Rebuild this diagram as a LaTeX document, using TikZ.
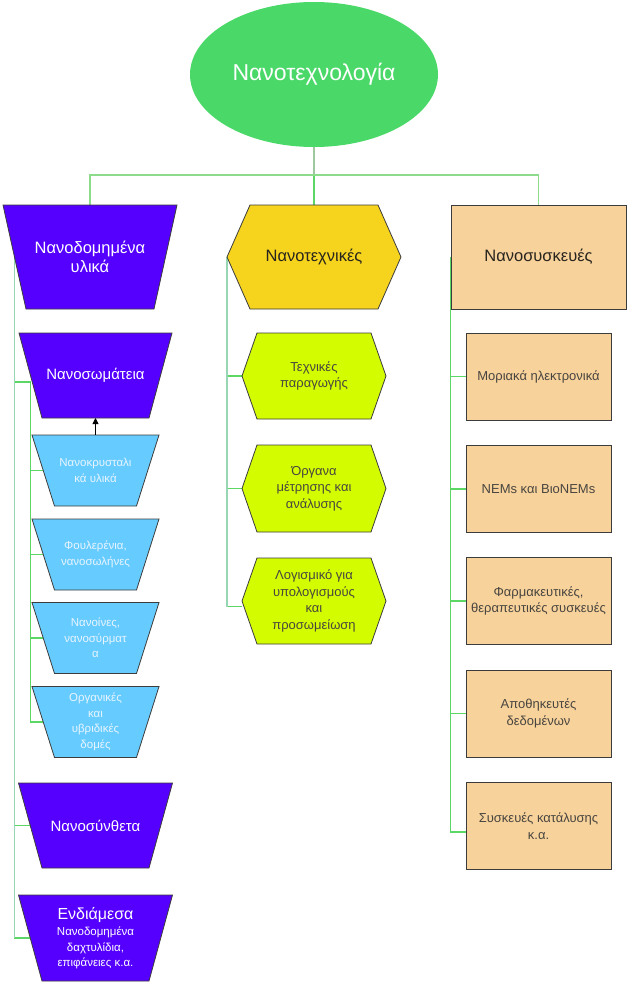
\documentclass[tikz,border=0pt]{standalone}
\usepackage{fontspec}
\setmainfont{Liberation Sans}
\usetikzlibrary{shapes.geometric,arrows.meta,backgrounds}
\definecolor{rootg}{RGB}{74,217,104}
\definecolor{purp}{RGB}{85,0,255}
\definecolor{lblue}{RGB}{102,204,255}
\definecolor{lbtxt}{RGB}{232,244,255}
\definecolor{gold}{RGB}{246,211,28}
\definecolor{lime}{RGB}{212,252,0}
\definecolor{peach}{RGB}{248,210,155}
\definecolor{gline}{RGB}{92,214,100}
\definecolor{busl}{RGB}{140,220,140}
\definecolor{grayg}{RGB}{160,200,160}
\definecolor{mint}{RGB}{150,214,178}
\definecolor{bord}{RGB}{60,60,60}
\definecolor{dtxt}{RGB}{40,36,30}
\newcommand\trapshape[9]{%
  \path[#7] (#2-#4,#3-#6) -- (#2+#4,#3-#6) -- (#2+#5,#3+#6) -- (#2-#5,#3+#6) -- cycle;
  \coordinate (#1-l) at ({#2-(#4+#5)/2},#3);
  \coordinate (#1-t) at (#2,#3-#6);
  \coordinate (#1-b) at (#2,#3+#6);
  \node[#8] (#1) at (#2,#3) {#9};
}
\newcommand\hexshape[9]{%
  \path[#7] (#2-#4,#3) -- (#2-#4+#5,#3-#6) -- (#2+#4-#5,#3-#6) -- (#2+#4,#3) -- (#2+#4-#5,#3+#6) -- (#2-#4+#5,#3+#6) -- cycle;
  \coordinate (#1-l) at (#2-#4,#3);
  \coordinate (#1-t) at (#2,#3-#6);
  \node[#8] (#1) at (#2,#3) {#9};
}
\tikzset{
  bigpurp/.style={fill=purp,draw=bord,line width=0.8pt},
  bluebox/.style={fill=lblue,draw=bord,line width=0.8pt},
  goldhex/.style={fill=gold,draw=bord,line width=0.8pt},
  limehex/.style={fill=lime,draw=bord,line width=0.8pt},
  ptxt/.style={align=center,text=white,font=\fontsize{15}{17.5}\selectfont,inner sep=0pt},
  p1txt/.style={align=center,text=white,font=\fontsize{16.5}{18.5}\selectfont,inner sep=0pt},
  btxt/.style={align=center,text=lbtxt,font=\fontsize{11.5}{15.5}\selectfont,inner sep=0pt},
  htxt/.style={align=center,text=dtxt,font=\fontsize{16.5}{18.5}\selectfont,inner sep=0pt},
  ltxt/.style={align=center,text=dtxt!85,font=\fontsize{13}{16.5}\selectfont,inner sep=0pt},
  devbig/.style={rectangle,fill=peach,draw=bord,line width=0.8pt,minimum width=175pt,minimum height=104pt,align=center,text=dtxt,font=\fontsize{16.5}{18.5}\selectfont},
  devbox/.style={rectangle,fill=peach,draw=bord,line width=0.8pt,minimum width=145pt,minimum height=87pt,align=center,text=dtxt!85,font=\fontsize{13}{16.5}\selectfont},
  gl/.style={draw=gline,line width=1.1pt},
  bl/.style={draw=busl,line width=1.1pt},
  grl/.style={draw=grayg,line width=1.1pt},
  ml/.style={draw=mint,line width=1.4pt},
}
\begin{document}
\begin{tikzpicture}[x=1pt,y=-1pt]
\useasboundingbox (0,0) rectangle (629,985);
\node[ellipse,fill=rootg,minimum width=248pt,minimum height=145pt,inner sep=0pt,text=white,font=\fontsize{23}{27}\selectfont] (root) at (314,74.5) {Νανοτεχνολογία};
\coordinate (bus) at (314,175);
% left column
\trapshape{nmat}{90}{257}{87}{64}{52}{bigpurp}{p1txt}{Νανοδομημένα\\υλικά}
\trapshape{nsom}{95.5}{375.5}{76.5}{53.5}{42.5}{bigpurp}{ptxt}{Νανοσωμάτεια}
\trapshape{c1}{95.5}{470.5}{63.5}{41}{35.5}{bluebox}{btxt}{Νανοκρυσταλι\\κά υλικά}
\trapshape{c2}{95.5}{554.5}{63.5}{41}{35.5}{bluebox}{btxt}{Φουλερένια,\\νανοσωλήνες}
\trapshape{c3}{95.5}{638}{63.5}{41}{35.5}{bluebox}{btxt}{Νανοίνες,\\νανοσύρματ\\α}
\trapshape{c4}{95.5}{722}{63.5}{41}{35.5}{bluebox}{btxt}{Οργανικές\\και\\υβριδικές\\δομές}
\trapshape{nsyn}{95.5}{825.5}{77}{53.5}{42.5}{bigpurp}{ptxt}{Νανοσύνθετα}
\trapshape{nend}{95.5}{938}{77}{53.5}{43}{bigpurp}{ptxt}{{\fontsize{16}{17}\selectfont Ενδιάμεσα}\\[-1pt]{\fontsize{11.5}{13.5}\selectfont Νανοδομημένα}\\[-2pt]{\fontsize{11.5}{13.5}\selectfont δαχτυλίδια,}\\[-2pt]{\fontsize{11.5}{13.5}\selectfont επιφάνειες κ.α.}}
% middle column
\hexshape{tech}{314}{257}{87}{23}{52}{goldhex}{htxt}{Νανοτεχνικές}
\hexshape{h1}{314}{376}{72}{15}{43}{limehex}{ltxt}{Τεχνικές\\παραγωγής}
\hexshape{h2}{314}{488.5}{72}{15}{43.5}{limehex}{ltxt}{Όργανα\\μέτρησης και\\ανάλυσης}
\hexshape{h3}{314}{601}{72}{15}{43}{limehex}{ltxt}{Λογισμικό για\\υπολογισμούς\\και\\προσωμείωση}
% right column
\node[devbig] (dev) at (538.5,257) {Νανοσυσκευές};
\node[devbox] (d1) at (538.5,376.5) {Μοριακά ηλεκτρονικά};
\node[devbox] (d2) at (538.5,489) {NEMs και ΒιοNEMs};
\node[devbox] (d3) at (538.5,601) {Φαρμακευτικές,\\θεραπευτικές συσκευές};
\node[devbox] (d4) at (538.5,713.5) {Αποθηκευτές\\δεδομένων};
\node[devbox] (d5) at (538.5,826) {Συσκευές κατάλυσης\\κ.α.};
\begin{scope}[on background layer]
\draw[grl] (root.south) -- (bus);
\draw[gl] (bus) -- (tech-t);
\draw[bl] (nmat-t) |- (bus) -| (dev.north);
% left
\draw[gl] (nmat-l) |- ([yshift=-6.5pt]nsom-l);
\draw[gl] (nmat-l) |- (nsyn-l);
\draw[gl] (nmat-l) |- (nend-l);
\draw[ml] (nmat-l) -- (nmat-l |- nend-l);
\draw[gl] ([yshift=-6.5pt]nsom-l) |- (c1-l);
\draw[gl] ([yshift=-6.5pt]nsom-l) |- (c2-l);
\draw[gl] ([yshift=-6.5pt]nsom-l) |- (c3-l);
\draw[gl] ([yshift=-6.5pt]nsom-l) |- (c4-l);
% middle
\coordinate (h3c) at ([yshift=-5.5pt]h3-l);
\draw[gl] (tech-l) |- (h1-l);
\draw[gl] (tech-l) |- (h2-l);
\draw[gl] (tech-l) |- (h3c);
\draw[ml] (tech-l) -- (tech-l |- h3c);
% right
\draw[gl] (dev.west) |- (d1.west);
\draw[gl] (dev.west) |- (d2.west);
\draw[gl] (dev.west) |- (d3.west);
\draw[gl] (dev.west) |- (d4.west);
\draw[gl] (dev.west) |- ([yshift=-6pt]d5.west);
\end{scope}
\draw[black,line width=0.8pt,-{Triangle[length=6pt,width=6pt]}] (c1-t) -- (nsom-b);
\end{tikzpicture}
\end{document}
